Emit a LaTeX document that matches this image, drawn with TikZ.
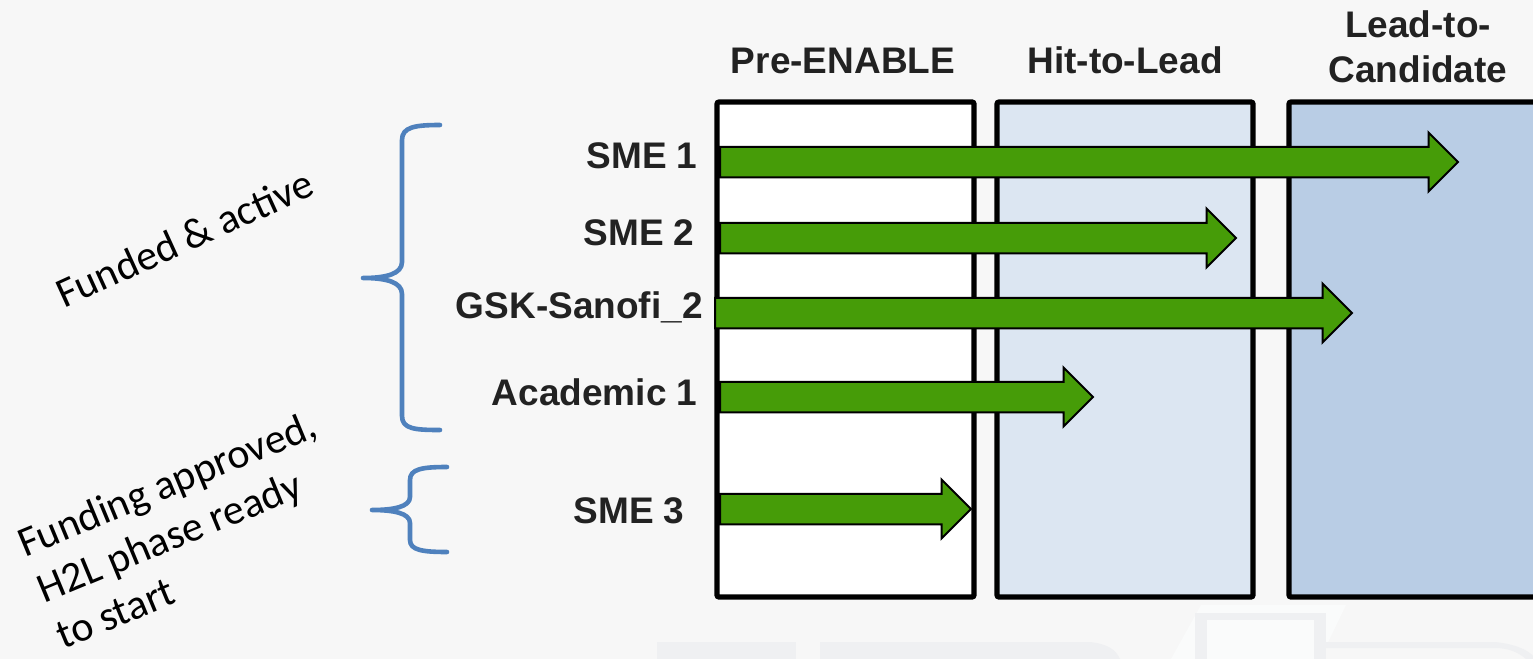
\documentclass[tikz,border=0pt]{standalone}
\usepackage{fontspec}
\setmainfont{Liberation Sans}
\newfontfamily\calibfont{Carlito}
\usetikzlibrary{shapes.arrows}

\definecolor{pagebg}{HTML}{F7F7F7}
\definecolor{hitfill}{HTML}{DCE6F2}
\definecolor{leadfill}{HTML}{B9CDE5}
\definecolor{arrowgreen}{HTML}{469C08}
\definecolor{braceblue}{HTML}{4F81BD}
\definecolor{labelcol}{HTML}{222222}
\definecolor{markgray}{HTML}{EFF0F2}
\definecolor{markwhite}{HTML}{FAFBFB}

\tikzset{
  phasebox/.style={draw=black, line width=2.6pt, rounded corners=1pt},
  greenarrow/.style={single arrow, draw=black, fill=arrowgreen, line width=1pt,
    inner xsep=0pt, inner ysep=7.125pt, single arrow head extend=7.125pt,
    single arrow tip angle=90, anchor=tail},
  rowlabel/.style={font=\bfseries\fontsize{18.5}{22}\selectfont, text=labelcol,
    inner sep=0pt, anchor=base east},
  header/.style={font=\bfseries\fontsize{18.5}{22}\selectfont, text=labelcol,
    inner sep=0pt, anchor=base},
  bracket/.style={draw=braceblue, line width=2.3pt, line cap=round, line join=round},
  note/.style={font=\calibfont\fontsize{21}{25}\selectfont, text=black,
    anchor=base west, inner sep=0pt, align=left},
  watermark/.style={fill=markgray, draw=none},
}

\begin{document}
\begin{tikzpicture}[x=0.5pt, y=-0.5pt]
  % page
  \useasboundingbox (0,0) rectangle (1533,659);
  \clip (0,0) rectangle (1533,659);
  \fill[pagebg] (0,0) rectangle (1533,659);

  % faint logo along the bottom edge
  \fill[markwhite] (1201,605) -- (1346,605) -- (1320,659) -- (1171,659) -- cycle;
  \fill[watermark] (657,642) rectangle (796,659);
  \fill[watermark] (820,642) rectangle (910,659);
  \fill[watermark] (910,642) -- (1090,642) .. controls (1108,644) and (1116,650) .. (1120,659) -- (910,659) -- cycle;
  \fill[watermark] (1195,613) rectangle (1326,620);
  \fill[watermark] (1195,613) rectangle (1207,659);
  \fill[watermark] (1314,613) rectangle (1326,659);
  \fill[watermark] (1326,642) -- (1495,642) .. controls (1515,644) and (1528,650) .. (1533,656) -- (1533,659) -- (1526,659) .. controls (1518,652) and (1508,648) .. (1495,648) -- (1326,648) -- cycle;

  % phase columns
  \draw[phasebox, fill=white]    (717,102) rectangle (974,597);
  \draw[phasebox, fill=hitfill]  (997,102) rectangle (1253,597);
  \draw[phasebox, fill=leadfill] (1289,102) rectangle (1580,597);

  % column headings
  \node[header] (hpre)  at (843,73) {Pre-ENABLE};
  \node[header] (hhit)  at (1125,73) {Hit-to-Lead};
  \node[header] (hlead) at (1418,37) {Lead-to-};
  \node[header] (hcand) at (1418,82) {Candidate};

  % progress arrows
  \node[greenarrow, minimum height=369pt]   (asme1) at (719,162) {};
  \node[greenarrow, minimum height=258pt]   (asme2) at (719,238) {};
  \node[greenarrow, minimum height=318.5pt] (agsk)  at (714,313) {};
  \node[greenarrow, minimum height=186.5pt] (aacad) at (719,397) {};
  \node[greenarrow, minimum height=125.5pt] (asme3) at (719,509) {};

  % project names
  \node[rowlabel] (lsme1) at (698,168) {SME 1};
  \node[rowlabel] (lsme2) at (695,245) {SME 2};
  \node[rowlabel] (lgsk)  at (703,318) {GSK-Sanofi\_2};
  \node[rowlabel] (lacad) at (698,405) {Academic 1};
  \node[rowlabel] (lsme3) at (685,523) {SME 3};

  % grouping braces
  \draw[bracket] (440,125) .. controls (415,125) and (402,127) .. (402,140)
    -- (402,262) .. controls (402,274) and (386,278) .. (363,278)
    .. controls (386,278) and (402,282) .. (402,294)
    -- (402,416) .. controls (402,429) and (415,430) .. (440,430);
  \draw[bracket] (447,467) .. controls (422,467) and (410,469) .. (410,480)
    -- (410,497) .. controls (410,507) and (393,510) .. (372,510)
    .. controls (393,510) and (410,513) .. (410,523)
    -- (410,540) .. controls (410,550) and (422,552) .. (447,552);

  % group captions (a multi-line node sits on its last baseline)
  \node[note, rotate=24.5] (nfund) at (64,309) {Funded \& active};
  \node[note, rotate=22.5] (napp)  at (63,650)
    {Funding approved,\\H2L phase ready\\to start};
\end{tikzpicture}
\end{document}
